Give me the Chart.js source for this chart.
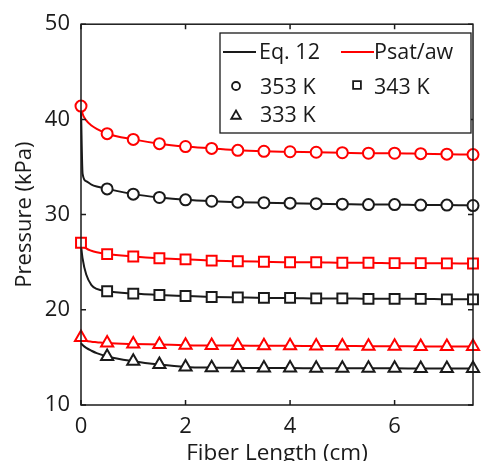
<!DOCTYPE html>
<html>
<head>
<meta charset="utf-8">
<script src="https://cdn.jsdelivr.net/npm/chart.js@4/dist/chart.umd.min.js"></script>
<style>
  html, body { margin: 0; padding: 0; background: #fff; }
  #wrap { width: 482px; height: 461px; }
</style>
</head>
<body>
<div id="wrap"><canvas id="chart" width="482" height="461"></canvas></div>
<script>
// fiber length of the plotted markers (cm)
var markerLength = [0, 0.5, 1, 1.5, 2, 2.5, 3, 3.5, 4, 4.5, 5, 5.5, 6, 6.5, 7, 7.5];
// extra points read where the curves bend, between 0 and the first marker
var bendLength = [0.03, 0.1, 0.2, 0.3];

// Psat/aw (red) and Eq. 12 (black), pressure in kPa
var psat353 = [41.4, 38.5, 37.9, 37.45, 37.15, 36.95, 36.75, 36.65, 36.6, 36.55, 36.5, 36.45, 36.45, 36.4, 36.35, 36.3];
var psat353Bend = [40.6, 39.9, 39.35, 39.0];
var eq353 = [41.0, 32.7, 32.15, 31.8, 31.55, 31.4, 31.3, 31.25, 31.2, 31.15, 31.1, 31.05, 31.05, 31.0, 31.0, 30.95];
var eq353Bend = [34.3, 33.5, 33.15, 32.95];

var psat343 = [27.05, 25.85, 25.6, 25.42, 25.3, 25.17, 25.1, 25.05, 25.0, 25.0, 24.95, 24.95, 24.9, 24.9, 24.88, 24.86];
var psat343Bend = [26.8, 26.45, 26.2, 26.05];
var eq343 = [26.8, 21.95, 21.7, 21.55, 21.45, 21.35, 21.3, 21.25, 21.25, 21.2, 21.2, 21.15, 21.15, 21.15, 21.1, 21.1];
var eq343Bend = [25.4, 23.7, 22.6, 22.2];

var psat333 = [17.1, 16.5, 16.4, 16.35, 16.28, 16.25, 16.25, 16.22, 16.22, 16.2, 16.2, 16.18, 16.18, 16.15, 16.15, 16.15];
var psat333Bend = [16.95, 16.75, 16.65, 16.6];
var eq333 = [16.5, 15.1, 14.6, 14.25, 14.0, 13.92, 13.9, 13.88, 13.88, 13.86, 13.86, 13.85, 13.85, 13.84, 13.84, 13.83];
var eq333Bend = [16.3, 16.0, 15.7, 15.45];

var xTicks = [0, 2, 4, 6];
var yTicks = [10, 20, 30, 40, 50];

var FONT = '"Open Sans", sans-serif';
var INK = '#1a1a1a';
var RED = '#ff0000';

function curve(markers, bend, color, style, radius, order, firstMarker) {
  var pts = [{ x: markerLength[0], y: markers[0], m: firstMarker }];
  bendLength.forEach(function (x, i) { pts.push({ x: x, y: bend[i], m: false }); });
  markerLength.slice(1).forEach(function (x, i) { pts.push({ x: x, y: markers[i + 1], m: true }); });
  return {
    data: pts,
    borderColor: color,
    borderWidth: 2,
    pointStyle: style,
    pointBorderColor: color,
    pointBackgroundColor: '#fff',
    pointBorderWidth: 2,
    pointRadius: function (ctx) { return ctx.raw && ctx.raw.m ? radius : 0; },
    pointHoverRadius: 0,
    cubicInterpolationMode: 'monotone',
    clip: false,
    order: order
  };
}

// MATLAB-like box with inward tick marks
var boxPlugin = {
  id: 'box',
  afterDatasetsDraw: function (chart) {
    var a = chart.chartArea, ctx = chart.ctx, xs = chart.scales.x, ys = chart.scales.y, t = 5;
    ctx.save();
    ctx.strokeStyle = INK;
    ctx.lineWidth = 1.5;
    ctx.strokeRect(a.left, a.top, a.right - a.left, a.bottom - a.top);
    ctx.beginPath();
    xTicks.forEach(function (v) {
      var px = xs.getPixelForValue(v);
      ctx.moveTo(px, a.bottom); ctx.lineTo(px, a.bottom - t);
      ctx.moveTo(px, a.top); ctx.lineTo(px, a.top + t);
    });
    yTicks.forEach(function (v) {
      var py = ys.getPixelForValue(v);
      ctx.moveTo(a.left, py); ctx.lineTo(a.left + t, py);
      ctx.moveTo(a.right, py); ctx.lineTo(a.right - t, py);
    });
    ctx.stroke();
    ctx.restore();
  }
};

// legend inside the plot, top right
var legendPlugin = {
  id: 'boxLegend',
  afterDraw: function (chart) {
    var ctx = chart.ctx;
    ctx.save();
    ctx.strokeStyle = INK;
    ctx.lineWidth = 1.3;
    ctx.fillStyle = '#fff';
    ctx.fillRect(220, 33, 251, 100);
    ctx.strokeRect(220, 33, 251, 100);

    ctx.lineWidth = 2;
    ctx.strokeStyle = INK;
    ctx.beginPath(); ctx.moveTo(223, 52); ctx.lineTo(256, 52); ctx.stroke();
    ctx.strokeStyle = RED;
    ctx.beginPath(); ctx.moveTo(341, 52); ctx.lineTo(374, 52); ctx.stroke();

    ctx.lineWidth = 1.8;
    ctx.strokeStyle = INK;
    ctx.fillStyle = '#fff';
    Chart.helpers.drawPoint(ctx, { pointStyle: 'circle', radius: 4, borderWidth: 1.8 }, 236, 86);
    Chart.helpers.drawPoint(ctx, { pointStyle: 'rect', radius: 5.5, borderWidth: 1.8 }, 357, 85);
    Chart.helpers.drawPoint(ctx, { pointStyle: 'triangle', radius: 5.5, borderWidth: 1.8 }, 236, 116);

    ctx.fillStyle = INK;
    ctx.font = '21.5px ' + FONT;
    ctx.textBaseline = 'alphabetic';
    ctx.textAlign = 'left';
    ctx.fillText('Eq. 12', 259, 59);
    ctx.fillText('Psat/aw', 374, 59);
    ctx.fillText('353 K', 260, 94);
    ctx.fillText('343 K', 374, 94);
    ctx.fillText('333 K', 260, 122);
    ctx.restore();
  }
};

new Chart(document.getElementById('chart'), {
  type: 'line',
  data: {
    datasets: [
      curve(psat353, psat353Bend, RED, 'circle', 5.5, 0, true),
      curve(eq353, eq353Bend, INK, 'circle', 5.5, 1, false),
      curve(psat343, psat343Bend, RED, 'rect', 7, 0, true),
      curve(eq343, eq343Bend, INK, 'rect', 7, 1, false),
      curve(psat333, psat333Bend, RED, 'triangle', 7, 0, true),
      curve(eq333, eq333Bend, INK, 'triangle', 7, 1, false)
    ]
  },
  options: {
    responsive: false,
    animation: false,
    events: [],
    layout: { padding: { top: 22, right: 1, left: 0, bottom: 0 } },
    plugins: { legend: { display: false }, tooltip: { enabled: false } },
    scales: {
      x: {
        type: 'linear',
        min: 0,
        max: 7.5,
        afterBuildTicks: function (s) { s.ticks = xTicks.map(function (v) { return { value: v }; }); },
        afterFit: function (s) { s.height = 56; },
        grid: { display: false, drawTicks: false },
        border: { display: false },
        ticks: { padding: 9, color: INK, font: { family: FONT, size: 22 }, maxRotation: 0 },
        title: { display: true, text: 'Fiber Length (cm)', color: INK, font: { family: FONT, size: 22.5 }, padding: { top: 0, bottom: -6 } }
      },
      y: {
        type: 'linear',
        min: 10,
        max: 50,
        afterBuildTicks: function (s) { s.ticks = yTicks.map(function (v) { return { value: v }; }); },
        afterFit: function (s) { s.width = 81; },
        grid: { display: false, drawTicks: false },
        border: { display: false },
        ticks: { padding: 11, color: INK, font: { family: FONT, size: 22 } },
        title: { display: true, text: 'Pressure (kPa)', color: INK, font: { family: FONT, size: 22 }, padding: { top: 12, bottom: 0 } }
      }
    }
  },
  plugins: [boxPlugin, legendPlugin]
});
</script>
</body>
</html>
